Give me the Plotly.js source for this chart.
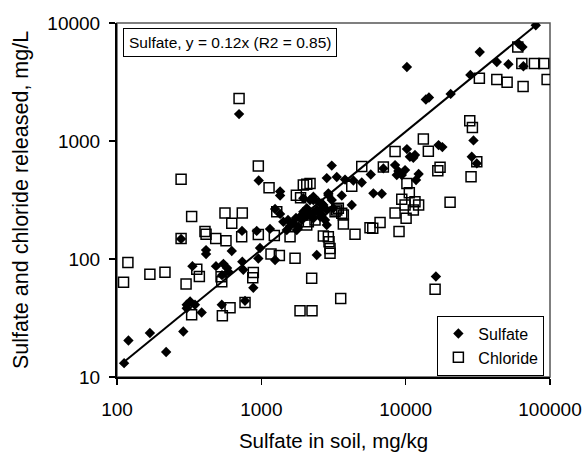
<!DOCTYPE html>
<html>
<head>
<meta charset="utf-8">
<script src="https://cdn.plot.ly/plotly-3.0.1.min.js"></script>
<style>html,body{margin:0;padding:0;background:#fff;}#chart{width:587px;height:452px;}</style>
</head>
<body>
<div id="chart"></div>
<script>
// Sulfate in soil (mg/kg) vs sulfate released (mg/L)
const sulfateSoil = [112,120,169,219,288,304,321,347,304,386,532,771,880,278,333,414,414,485,546,579,534,591,624,738,750,979,953,1245,735,929,1148,701,959,1349,1349,1245,1349,1421,1581,1760,1659,1905,2064,2293,2552,2840,1854,2293,2622,2913,2840,3075,3331,3802,4341,4963,5731,3608,4231,5974,6830,7006,8445,8900,9904,8676,9397,12300,11800,10700,11600,10200,11300,16900,17960,28700,31100,29500,13800,14500,20500,28070,10200,32600,42800,51500,65400,60400,64400,79700,16200,2421,2840,1954,2175,2483,2690,3075,2064,2552,3155,1954,2421,2622,2763,2293,1500,1805,2010,2175,1738,1531,2293,2913];
const sulfateReleased = [13.1,20.4,23.6,16.3,24.3,41,43.6,41,38.3,35.2,41,44.2,57,148,87,119,110,87,91,84,73,78,117,95,81,124,101,98,173,173,180,1690,462,373,345,265,241,207,190,176,202,214,231,245,228,260,228,316,296,360,485,619,495,471,462,445,520,345,287,360,357,586,625,556,567,515,515,525,467,735,760,854,721,923,888,735,646,1012,2249,2337,2507,3631,4243,5683,4677,4472,4300,6692,6266,9550,71,108,194,327,316,306,287,316,269,260,269,252,260,236,214,221,176,188,236,244,223,214,337,348];

// Sulfate in soil (mg/kg) vs chloride released (mg/L)
const chlorideSoil = [111,119,169,215,278,278,301,329,329,357,372,407,414,483,560,569,624,738,731,526,532,537,607,771,701,953,880,872,953,1131,1167,1230,1279,1333,1581,1712,1748,1870,2064,2175,1854,2244,2233,2117,2355,2064,1954,2690,2913,2944,2992,2992,3331,3416,3608,3243,3700,3700,3548,4231,4457,4963,5662,5916,6646,7006,8445,8995,9397,9904,10070,11600,12300,11300,10600,10200,8445,13260,14360,16700,17310,20310,15990,28380,31100,27800,29000,32400,42800,50440,65100,95500,63800,78000,90600,59800];
const chlorideReleased = [63.6,93.2,74.3,77.3,149,473,61.5,229,33.7,82,71,171,162,149,245,143,201,245,154,70.6,64,33,38.6,42.8,2293,613,76.7,69.2,161.5,402,110,158,252,107,154,101.5,347,330,430,436,36.4,36.4,68.8,207,214,194,424,157,154,140,123,112,260,269,244,252,236,198,46.2,413,162,609,184,182,204,601,245,171,321,287,221,306,287,260,365,437,813,1038,817,560,598,302,55.5,498,667,1483,1303,3404,3318,3148,2897,3318,4530,4530,4530,6266];

// Trendline: y = 0.12x over the sulfate data range
const trendSlope = 0.12;
const trendSoil = [110, 83000];
const trendReleased = trendSoil.map(v => trendSlope * v);

const xTicks = [100, 1000, 10000, 100000];
const xTickText = ['100', '1000', '10000', '100000'];
const yTicks = [10, 100, 1000, 10000];
const yTickText = ['10', '100', '1000', '10000'];

const FONT = 'Liberation Sans, Arial, sans-serif';

const traces = [
  {
    x: sulfateSoil, y: sulfateReleased, type: 'scatter', mode: 'markers', name: 'Sulfate',
    marker: {symbol: 'diamond', size: 8, color: '#000', line: {width: 0}}
  },
  {
    x: chlorideSoil, y: chlorideReleased, type: 'scatter', mode: 'markers', name: 'Chloride',
    marker: {symbol: 'square-open', size: 10, color: '#000', line: {width: 1.5, color: '#000'}}
  },
  {
    x: trendSoil, y: trendReleased, type: 'scatter', mode: 'lines', showlegend: false,
    line: {color: '#000', width: 2}, hoverinfo: 'skip'
  }
];

const axisCommon = {
  type: 'log', showgrid: false, zeroline: false,
  showline: true, linecolor: '#000', linewidth: 2,
  ticks: 'outside', ticklen: 6, tickwidth: 1.5, tickcolor: '#000',
  tickfont: {family: FONT, size: 19, color: '#000'},
  tickmode: 'array'
};

const layout = {
  width: 587, height: 452,
  margin: {l: 117, r: 37, t: 23, b: 75, pad: 0},
  paper_bgcolor: '#fff', plot_bgcolor: '#fff',
  font: {family: FONT, color: '#000'},
  showlegend: true,
  xaxis: Object.assign({}, axisCommon, {
    range: [2, 5], tickvals: xTicks, ticktext: xTickText, ticklabelstandoff: 8,
    title: {text: 'Sulfate in soil, mg/kg', font: {family: FONT, size: 20.5, color: '#000'}, standoff: 16}
  }),
  yaxis: Object.assign({}, axisCommon, {
    range: [1, 4], tickvals: yTicks, ticktext: yTickText, ticklabelstandoff: 5,
    title: {text: 'Sulfate and chloride released, mg/L', font: {family: FONT, size: 21.5, color: '#000'}, standoff: 13}
  }),
  legend: {
    x: 0.987, xanchor: 'right', y: 0.004, yanchor: 'bottom',
    bgcolor: '#fff', bordercolor: '#000', borderwidth: 1,
    font: {family: FONT, size: 16, color: '#000'}
  },
  shapes: [
    {type: 'rect', xref: 'paper', yref: 'paper', x0: 0, x1: 1, y0: 0, y1: 1,
     line: {color: '#555', width: 1.5}, layer: 'below'}
  ],
  annotations: [
    {xref: 'paper', yref: 'paper', x: 0.013, y: 0.985, xanchor: 'left', yanchor: 'top',
     text: 'Sulfate, y = 0.12x (R2 = 0.85)', showarrow: false,
     font: {family: FONT, size: 15.5, color: '#000'},
     bgcolor: '#fff', bordercolor: '#000', borderwidth: 1, borderpad: 5}
  ]
};

Plotly.newPlot('chart', traces, layout, {displayModeBar: false, staticPlot: true});
</script>
</body>
</html>
